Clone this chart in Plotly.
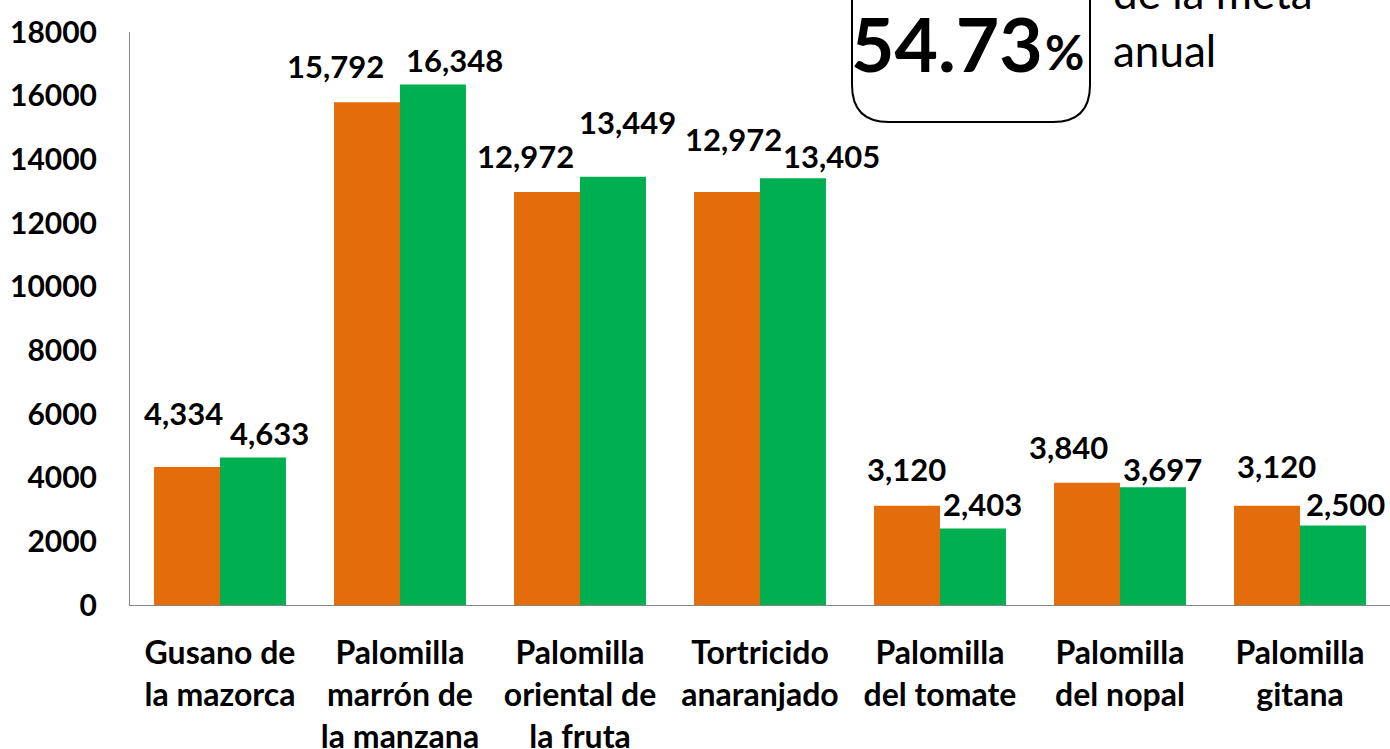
import plotly.graph_objects as go

# ---- data ----
categories = [
    "Gusano de<br>la mazorca",
    "Palomilla<br>marrón de<br>la manzana",
    "Palomilla<br>oriental de<br>la fruta",
    "Tortricido<br>anaranjado",
    "Palomilla<br>del tomate",
    "Palomilla<br>del nopal",
    "Palomilla<br>gitana",
]
serie_meta = [4334, 15792, 12972, 12972, 3120, 3840, 3120]
serie_logro = [4633, 16348, 13449, 13405, 2403, 3697, 2500]
y_ticks = [0, 2000, 4000, 6000, 8000, 10000, 12000, 14000, 16000, 18000]
porcentaje = "54.73"
texto_linea1 = "de la meta"
texto_linea2 = "anual"

# label offsets (pixels) to mimic the manual placement in the original
off_meta = [(-4, 54), (-32, 36), (-22, 36), (6, 53), (-1, 37), (-19, 36), (9, 40)]
off_logro = [(17, 25), (22, 25), (15, 55), (39, 22), (10, 25), (10, 18), (13, 21)]

ORANGE = "#E46C0A"
GREEN = "#00B050"
FONT = "Lato"

W, H = 1390, 749
PLOT_L, PLOT_T, PLOT_B = 130, 32, 605
PW, PH = W - PLOT_L, PLOT_B - PLOT_T


def px(x):
    return (x - PLOT_L) / PW


def py(y):
    return (PLOT_B - y) / PH


BARGAP = 0.267
half = (1 - BARGAP) / 4  # offset of each bar centre from category centre

fig = go.Figure()
fig.add_trace(go.Bar(x=categories, y=serie_meta, marker_color=ORANGE, name="Meta",
                     marker_line_width=0))
fig.add_trace(go.Bar(x=categories, y=serie_logro, marker_color=GREEN, name="Logro",
                     marker_line_width=0))

annotations = []
for i, (a, b) in enumerate(zip(serie_meta, serie_logro)):
    for val, sign, off in ((a, -1, off_meta[i]), (b, 1, off_logro[i])):
        annotations.append(dict(
            x=i + sign * half, y=val, xref="x", yref="y",
            text=f"{val:,}", showarrow=False,
            xanchor="center", yanchor="middle",
            xshift=off[0], yshift=off[1],
            font=dict(family=FONT, size=31, color="#000000", weight="bold"),
        ))

# big percentage box
annotations.append(dict(
    x=px(1045), y=py(43), xref="paper", yref="paper", text=porcentaje,
    showarrow=False, xanchor="right", yanchor="middle",
    font=dict(family=FONT, size=75, color="#000000", weight="bold"),
))
annotations.append(dict(
    x=px(1043), y=py(51), xref="paper", yref="paper", text="%",
    showarrow=False, xanchor="left", yanchor="middle",
    font=dict(family=FONT, size=48, color="#000000", weight="bold"),
))
annotations.append(dict(
    x=px(1111), y=py(20), xref="paper", yref="paper", text=texto_linea1,
    showarrow=False, xanchor="left", yanchor="bottom", align="left",
    font=dict(family=FONT, size=44, color="#000000"),
))
annotations.append(dict(
    x=px(1111), y=py(78), xref="paper", yref="paper", text=texto_linea2,
    showarrow=False, xanchor="left", yanchor="bottom", align="left",
    font=dict(family=FONT, size=44, color="#000000"),
))

# rounded box (open at top, extends beyond the page)
bl, br_, bb, bt, r = 852, 1090, 122, -40, 37
rx, ry = r / PW, r / PH
path = (
    f"M {px(bl)},{py(bt)} L {px(bl)},{py(bb) + ry} "
    f"Q {px(bl)},{py(bb)} {px(bl) + rx},{py(bb)} "
    f"L {px(br_) - rx},{py(bb)} "
    f"Q {px(br_)},{py(bb)} {px(br_)},{py(bb) + ry} "
    f"L {px(br_)},{py(bt)}"
)

fig.update_layout(
    width=W, height=H,
    margin=dict(l=PLOT_L, r=0, t=PLOT_T, b=H - PLOT_B, autoexpand=False),
    barmode="group", bargap=BARGAP, bargroupgap=0,
    showlegend=False,
    plot_bgcolor="white", paper_bgcolor="white",
    annotations=annotations,
    shapes=[dict(type="path", path=path, xref="paper", yref="paper",
                 line=dict(color="#000000", width=2))],
    font=dict(family=FONT, color="#000000"),
)
fig.update_yaxes(
    range=[0, 18000], tickvals=y_ticks, tickformat="d",
    showline=True, linecolor="#868686", linewidth=1,
    showgrid=False, zeroline=False, ticks="", automargin=False,
    ticklabelstandoff=26,
    tickfont=dict(family=FONT, size=30, color="#000000", weight="bold"),
)
fig.update_xaxes(
    showline=True, linecolor="#868686", linewidth=1,
    showgrid=False, ticks="", automargin=False, ticklabelstandoff=20,
    tickfont=dict(family=FONT, size=32, color="#000000", weight="bold"),
)

fig.write_html(
    "out.html",
    config={"displayModeBar": False},
    post_script="document.body.style.margin='0px';document.body.style.overflow='hidden';",
)
